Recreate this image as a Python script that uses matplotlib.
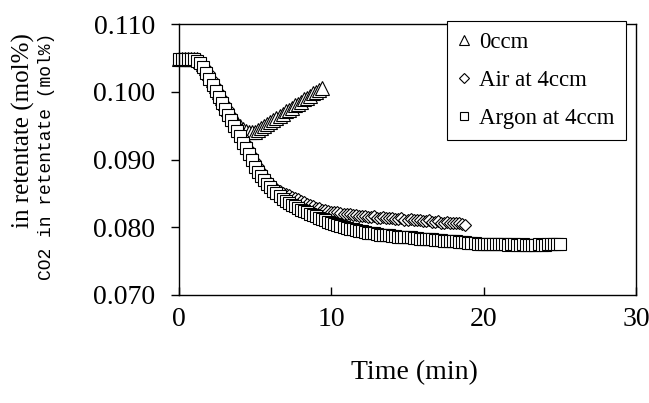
import numpy as np
import matplotlib
matplotlib.use('Agg')
import matplotlib.pyplot as plt
import matplotlib.ticker as ticker

plt.rcParams['font.family'] = ['Liberation Serif', 'DejaVu Serif']

# sampling interval of the logged data (min)
step = 0.2

# 0ccm sweep (triangles)
co2_0ccm = [0.1048, 0.1049, 0.1048, 0.1048, 0.1049, 0.1048, 0.1048,
            0.1045, 0.1041, 0.1035, 0.1027, 0.1018, 0.1009, 0.1000, 0.0991,
            0.0983, 0.0975, 0.0967, 0.0960, 0.0954, 0.0949, 0.0945, 0.0942,
            0.0940, 0.0940, 0.0941, 0.0943, 0.0946, 0.0949, 0.0952, 0.0955,
            0.0958, 0.0961, 0.0964, 0.0967, 0.0971, 0.0973, 0.0976, 0.0980,
            0.0982, 0.0985, 0.0989, 0.0991, 0.0994, 0.0998, 0.1000, 0.1003,
            0.1006]

# air at 4ccm (diamonds)
co2_air = [0.1048, 0.1048, 0.1049, 0.1048, 0.1048, 0.1049, 0.1048,
           0.1045, 0.1041, 0.1035, 0.1027, 0.1018, 0.1009, 0.1000, 0.0991,
           0.0982, 0.0974, 0.0965, 0.0957, 0.0949, 0.0941, 0.0933, 0.0925,
           0.0916, 0.0907, 0.0898, 0.0890, 0.0883, 0.0876, 0.0870, 0.0865,
           0.0861, 0.0857, 0.0854, 0.0851, 0.0849, 0.0847, 0.0845, 0.0843,
           0.0841, 0.0839, 0.0837, 0.0835, 0.0833, 0.0831, 0.0829, 0.0828,
           0.0826, 0.0825, 0.0824, 0.0823,
           0.0822, 0.0822, 0.0821, 0.0820, 0.0820, 0.0819, 0.0818, 0.0818, 0.0817, 0.0816,
           0.0817, 0.0815, 0.0815, 0.0816, 0.0814, 0.0814, 0.0815, 0.0813, 0.0813, 0.0814,
           0.0812, 0.0812, 0.0813, 0.0811, 0.0811, 0.0812, 0.0810, 0.0810, 0.0811, 0.0809,
           0.0809, 0.0810, 0.0808, 0.0808, 0.0809, 0.0807, 0.0807, 0.0808, 0.0806, 0.0806,
           0.0806, 0.0806, 0.0805, 0.0804]

# argon at 4ccm (squares)
co2_argon = [0.1048, 0.1049, 0.1048, 0.1048, 0.1049, 0.1048,
             0.1046, 0.1042, 0.1036, 0.1028, 0.1019, 0.1010, 0.1001, 0.0992,
             0.0983, 0.0975, 0.0966, 0.0958, 0.0950, 0.0942, 0.0934, 0.0925,
             0.0917, 0.0908, 0.0899, 0.0889,
             0.0882, 0.0876, 0.0870, 0.0864, 0.0859, 0.0854, 0.0850, 0.0846,
             0.0842, 0.0839, 0.0836, 0.0833, 0.0831, 0.0829, 0.0826, 0.0824,
             0.0822, 0.0820, 0.0818, 0.0816, 0.0814, 0.0812, 0.0810, 0.0808,
             0.0806, 0.0805, 0.0803, 0.0802, 0.0800, 0.0799, 0.0798, 0.0797,
             0.0796, 0.0795, 0.0794, 0.0793, 0.0792, 0.0791, 0.0791, 0.0790,
             0.0789, 0.0789, 0.0788, 0.0788, 0.0787, 0.0787, 0.0786, 0.0786, 0.0785, 0.0785,
             0.0785, 0.0784, 0.0784, 0.0783, 0.0783, 0.0783, 0.0782, 0.0782, 0.0781, 0.0781,
             0.0781, 0.0780, 0.0780, 0.0779, 0.0779, 0.0779, 0.0778, 0.0778, 0.0778, 0.0777,
             0.0777, 0.0777, 0.0776, 0.0776, 0.0776, 0.0776, 0.0775, 0.0775, 0.0776, 0.0775,
             0.0775, 0.0775, 0.0774, 0.0775, 0.0775, 0.0774, 0.0774, 0.0775, 0.0774, 0.0774,
             0.0774, 0.0774, 0.0775, 0.0774, 0.0774, 0.0775, 0.0775, 0.0775, 0.0776, 0.0776]

series = [
    ('0ccm', co2_0ccm, '^', 10),
    ('Air at 4ccm', co2_air, 'D', 6.5),
    ('Argon at 4ccm', co2_argon, 's', 8.5),
]

fig = plt.figure(figsize=(6.49, 4.03), dpi=100)
ax = fig.add_axes([179/649, 1 - 295/403, (636 - 179)/649, (295 - 24)/403])

for name, vals, mk, ms in series:
    t = np.arange(len(vals)) * step
    ax.plot(t, vals, linestyle='none', marker=mk, markersize=ms,
            markerfacecolor='white', markeredgecolor='black',
            markeredgewidth=0.8, label=name, clip_on=False, zorder=2)

ax.set_xlim(0, 30)
ax.set_ylim(0.070, 0.110)
ax.set_xticks([0, 10, 20, 30])
ax.set_yticks([0.070, 0.080, 0.090, 0.100, 0.110])
ax.yaxis.set_major_formatter(ticker.FormatStrFormatter('%.3f'))
ax.tick_params(axis='x', direction='in', length=6, width=1, pad=9, labelsize=20)
ax.tick_params(axis='y', direction='out', length=6, width=1, pad=11, labelsize=20)
for sp in ax.spines.values():
    sp.set_linewidth(1.0)
    sp.set_zorder(5)

fig.text(414/649, 1 - 373/403, 'Time (min)', ha='center', va='center', fontsize=20)
fig.text(23/649, 1 - 33/403, 'in retentate (mol%)', rotation=90,
         ha='center', va='top', fontsize=18)
fig.text(47/649, 1 - 33/403, 'CO2 in retentate (mol%)', rotation=90,
         ha='center', va='top', fontsize=13, family='Liberation Mono')

leg = ax.legend(loc='upper left', bbox_to_anchor=(447/649, 1 - 21/403),
                bbox_transform=fig.transFigure, borderaxespad=0,
                fontsize=16.5, frameon=True, fancybox=False,
                edgecolor='black', framealpha=1, handlelength=0.5,
                handletextpad=0.4, labelspacing=0.72, borderpad=0.5,
                markerscale=0.75)
leg.get_frame().set_linewidth(0.8)
leg.set_zorder(10)

plt.savefig('out.png', dpi=100)
plt.close()
